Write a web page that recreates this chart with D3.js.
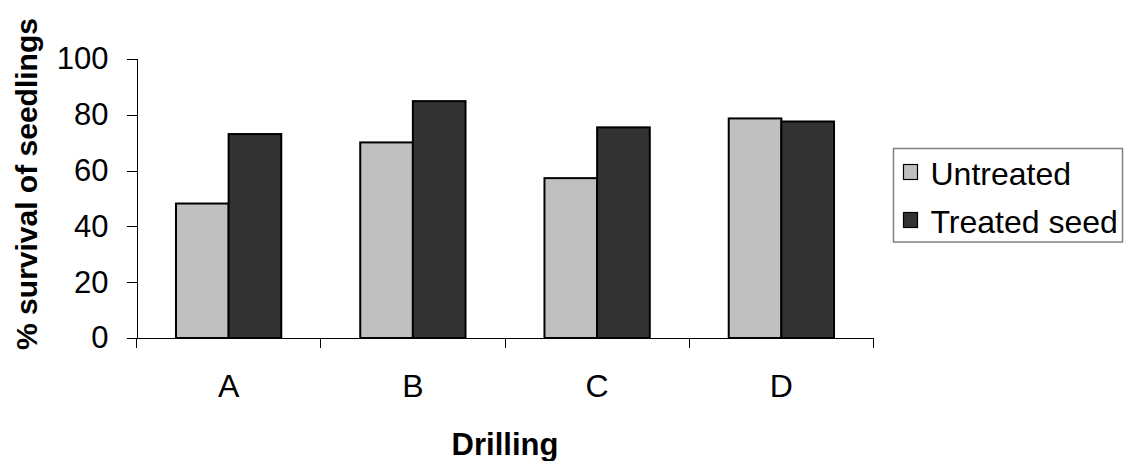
<!DOCTYPE html>
<html>
<head>
<meta charset="utf-8">
<script src="https://cdn.jsdelivr.net/npm/d3@7"></script>
<style>
  html, body { margin: 0; padding: 0; background: #fff; }
  svg { display: block; font-family: "Liberation Sans", Arial, sans-serif; }
</style>
</head>
<body>
<svg id="chart" width="1124" height="461"></svg>
<script>
// Survival of seedlings by drilling method
const categories = ["A", "B", "C", "D"];
const seriesNames = ["Untreated", "Treated seed"];
const untreated = [48.2, 70.1, 57.3, 78.7];
const treatedSeed = [73.1, 84.9, 75.5, 77.6];
const yTicks = [0, 20, 40, 60, 80, 100];
const seriesColors = ["#c0c0c0", "#333333"];

const seriesValues = [untreated, treatedSeed];
const rows = categories.map((c, i) => ({
  category: c,
  values: seriesNames.map((s, j) => ({ series: s, value: seriesValues[j][i], idx: j }))
}));

const svg = d3.select("#chart");
const plot = { left: 136.5, right: 873.5, top: 59, bottom: 338 };

const y = d3.scaleLinear().domain([0, 100]).range([plot.bottom, plot.top]);
const gap = 1.5 / 3.5; // gap between groups is 150% of a bar
const x = d3.scaleBand().domain(categories)
  .range([plot.left, plot.right])
  .paddingInner(gap).paddingOuter(gap / 2);
const xs = d3.scaleBand().domain(seriesNames).range([0, x.bandwidth()]).padding(0);

// Bars
const groups = svg.append("g").selectAll("g").data(rows).join("g")
  .attr("transform", d => `translate(${x(d.category)},0)`);
groups.selectAll("rect").data(d => d.values).join("rect")
  .attr("x", d => xs(d.series))
  .attr("y", d => y(d.value))
  .attr("width", xs.bandwidth())
  .attr("height", d => y(0) - y(d.value))
  .attr("fill", d => seriesColors[d.idx])
  .attr("stroke", "#000")
  .attr("stroke-width", 2);

// Y axis
const yAxis = d3.axisLeft(y).tickValues(yTicks).tickSize(10).tickPadding(18)
  .tickFormat(d3.format("d"));
const gy = svg.append("g").attr("transform", `translate(${plot.left},0)`).call(yAxis);
gy.select(".domain").attr("stroke", "#000").attr("shape-rendering", "crispEdges");
gy.selectAll(".tick line").attr("stroke", "#000").attr("shape-rendering", "crispEdges");
gy.selectAll(".tick text").attr("font-size", 31).attr("fill", "#000")
  .attr("font-family", "Liberation Sans, Arial, sans-serif");

// X axis: ticks sit between categories
const xAxisG = svg.append("g").attr("transform", `translate(0,${plot.bottom})`);
xAxisG.append("line")
  .attr("x1", plot.left).attr("x2", plot.right)
  .attr("y1", 0).attr("y2", 0)
  .attr("stroke", "#000").attr("shape-rendering", "crispEdges");
const step = x.step();
const boundaries = d3.range(categories.length + 1).map(i => plot.left + i * step);
xAxisG.selectAll("line.tk").data(boundaries).join("line")
  .attr("class", "tk")
  .attr("x1", d => d).attr("x2", d => d)
  .attr("y1", 0).attr("y2", 10)
  .attr("stroke", "#000").attr("shape-rendering", "crispEdges");
xAxisG.selectAll("text").data(categories).join("text")
  .attr("x", d => x(d) + x.bandwidth() / 2)
  .attr("y", 59)
  .attr("text-anchor", "middle")
  .attr("font-size", 32)
  .text(d => d);

// Axis titles
svg.append("text")
  .attr("x", (plot.left + plot.right) / 2)
  .attr("y", 455)
  .attr("text-anchor", "middle")
  .attr("font-size", 31)
  .attr("font-weight", "bold")
  .text("Drilling");

svg.append("text")
  .attr("transform", `translate(37,184) rotate(-90)`)
  .attr("text-anchor", "middle")
  .attr("font-size", 30)
  .attr("font-weight", "bold")
  .text("% survival of seedlings");

// Legend
const legend = svg.append("g").attr("transform", "translate(893.5,148.5)");
legend.append("rect")
  .attr("width", 229).attr("height", 93.5)
  .attr("fill", "#fff").attr("stroke", "#808080").attr("stroke-width", 1.5);
const items = legend.selectAll("g").data(seriesNames).join("g")
  .attr("transform", (d, i) => `translate(10,${16 + i * 48})`);
items.append("rect")
  .attr("width", 14).attr("height", 15)
  .attr("fill", (d, i) => seriesColors[i])
  .attr("stroke", "#000").attr("stroke-width", 1.2);
items.append("text")
  .attr("x", 27).attr("y", 20)
  .attr("font-size", 32)
  .text(d => d);
</script>
</body>
</html>
